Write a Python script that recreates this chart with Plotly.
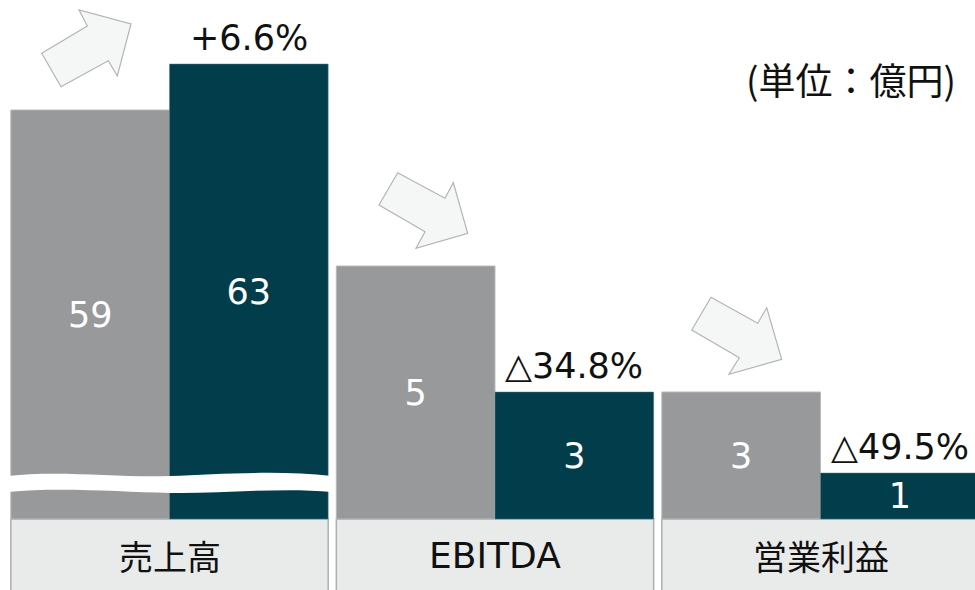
import plotly.graph_objects as go

# ---- data ----
categories = ["売上高", "EBITDA", "営業利益"]
prior_values = [59, 5, 3]
current_values = [63, 3, 1]
change_labels = ["+6.6%", "△34.8%", "△49.5%"]
# drawn bar heights (the original chart is not drawn to scale; sales axis is broken)
prior_drawn = [409, 253, 127]
current_drawn = [455, 127, 46]
unit_label = "(単位：億円)"

W, H = 975, 590
GRAY = "#98999b"
TEAL = "#023d4b"
FONT = "DejaVu Sans, Noto Sans CJK JP, sans-serif"
JFONT = "Noto Sans CJK JP, DejaVu Sans, sans-serif"

x_idx = list(range(len(categories)))

fig = go.Figure()
fig.add_trace(go.Bar(
    x=x_idx, y=prior_drawn, marker=dict(color=GRAY, line=dict(color="#b9babc", width=1)),
    text=[str(v) for v in prior_values], textposition="inside", insidetextanchor="middle",
    textfont=dict(color="white", size=35, family=FONT), constraintext="none",
    hoverinfo="skip", showlegend=False))
fig.add_trace(go.Bar(
    x=x_idx, y=current_drawn, marker=dict(color=TEAL, line=dict(color="#5a7d88", width=0.5)),
    text=[str(v) for v in current_values], textposition="inside", insidetextanchor="middle",
    textfont=dict(color="white", size=35, family=FONT), constraintext="none",
    hoverinfo="skip", showlegend=False))

bargap = 0.025
half = (1 - bargap) / 2
shapes = []
annotations = []

def P(px, py):
    return f"{px / W:.5f} {1 - py / H:.5f}"

for i, cat in enumerate(categories):
    # category label box
    shapes.append(dict(type="rect", xref="x", yref="y", x0=i - half, x1=i + half,
                       y0=-80, y1=0, fillcolor="#e9eaea",
                       line=dict(color="#aeafb0", width=1.5), layer="below"))
    is_latin = all(ord(c) < 128 for c in cat)
    annotations.append(dict(x=i, y=-36, xref="x", yref="y", text=cat, showarrow=False,
                            font=dict(size=36 if is_latin else 34,
                                      family=FONT if is_latin else JFONT, color="#111111")))
    # change label above current bar
    annotations.append(dict(x=i + half / 2, y=current_drawn[i], xref="x", yref="y",
                            text=change_labels[i], showarrow=False, yanchor="bottom",
                            yshift=4, font=dict(size=35, family=FONT, color="#111111")))

# broken-axis wave on the sales bars
wave = ("M " + P(8, 476) + " C " + P(60, 470) + " " + P(120, 478) + " " + P(170, 476)
        + " S " + P(280, 470) + " " + P(332, 476)
        + " L " + P(332, 492) + " C " + P(280, 487) + " " + P(220, 494) + " " + P(170, 493)
        + " S " + P(60, 487) + " " + P(8, 492) + " Z")
shapes.append(dict(type="path", xref="paper", yref="paper", path=wave,
                   fillcolor="white", line=dict(width=0)))

# decorative block arrows
arrows = [
    [(41.7, 53.3), (87.3, 26), (79, 10), (131, 24), (117.3, 76), (108.3, 60.7), (61, 86.7)],
    [(397.7, 172.7), (445, 198.3), (453.3, 182.7), (467.7, 233.3), (416, 248.3), (425, 231.7), (379, 205)],
    [(711, 297.3), (757.7, 323.3), (766.7, 307.7), (781.7, 359.3), (729, 374.3), (739.3, 357.7), (691.7, 330)],
]
for pts in arrows:
    path = "M " + " L ".join(P(a, b) for a, b in pts) + " Z"
    shapes.append(dict(type="path", xref="paper", yref="paper", path=path,
                       fillcolor="#f5f6f6", line=dict(color="#b3b4b5", width=1.2)))

annotations.append(dict(x=958 / W, y=1 - 79 / H, xref="paper", yref="paper",
                        text=unit_label, showarrow=False, xanchor="right", yanchor="middle",
                        font=dict(size=37, family=JFONT, color="#111111")))

fig.update_layout(
    width=W, height=H, margin=dict(l=0, r=0, t=0, b=0),
    paper_bgcolor="white", plot_bgcolor="white",
    barmode="group", bargap=bargap, bargroupgap=0,
    xaxis=dict(range=[-169.5 / 325.5, (975 - 169.5) / 325.5], visible=False, fixedrange=True),
    yaxis=dict(range=[-71, 519], visible=False, fixedrange=True),
    shapes=shapes, annotations=annotations, showlegend=False,
)
fig.write_html("out.html", config={"displayModeBar": False},
               post_script="document.body.style.margin='0';document.body.style.overflow='hidden';")
